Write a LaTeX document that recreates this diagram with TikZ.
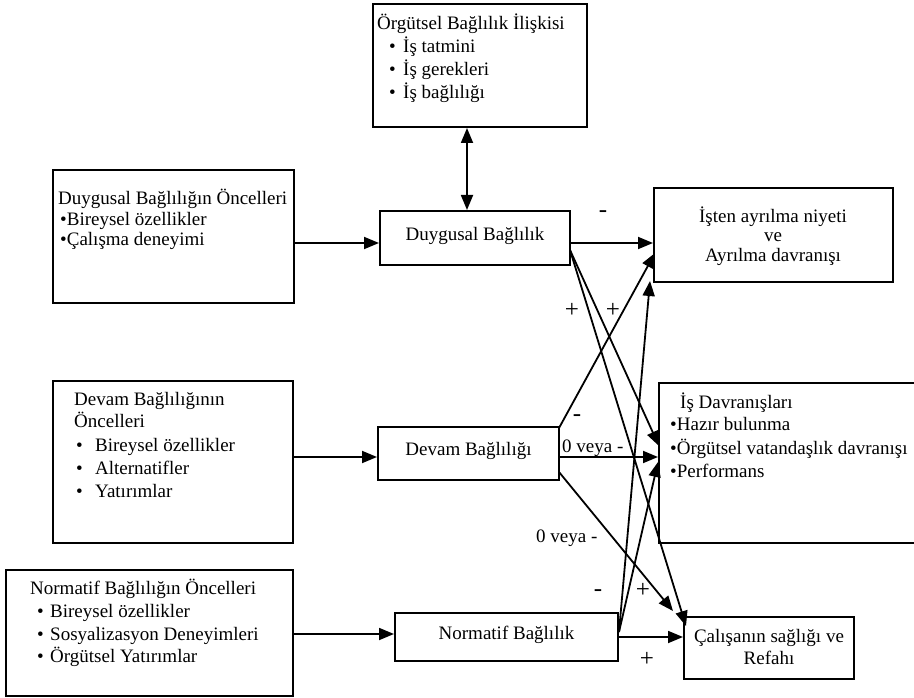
\documentclass[tikz,border=0pt]{standalone}
\usepackage{fontspec}
\setmainfont{Liberation Serif}
\usetikzlibrary{arrows.meta}
\begin{document}
\begin{tikzpicture}[x=1pt,y=-1pt,
  box/.style={draw, line width=2pt, inner sep=0pt},
  txt/.style={anchor=west, inner sep=0pt, font=\fontsize{19}{23}\selectfont, text height=0.68em, text depth=0.2em},
  ctxt/.style={anchor=center, inner sep=0pt, font=\fontsize{19}{23}\selectfont, text height=0.68em, text depth=0.2em},
  lbl/.style={anchor=center, inner sep=0pt, font=\fontsize{19}{23}\selectfont},
  sgn/.style={anchor=center, inner sep=0pt, font=\fontsize{25}{25}\selectfont},
  arr/.style={line width=1.8pt, -{Triangle[length=15pt,width=12pt]}},
  dblarr/.style={line width=1.8pt, {Triangle[length=15pt,width=12pt]}-{Triangle[length=15pt,width=12pt]}}
]
\useasboundingbox (0,0) rectangle (914,698);

% boxes
\node[box, minimum width=214pt, minimum height=123pt] (TB) at (480,65.5) {};
\node[box, minimum width=241pt, minimum height=133pt] (L1) at (173.5,236.5) {};
\node[box, minimum width=240pt, minimum height=162pt] (L2) at (173,462) {};
\node[box, minimum width=287pt, minimum height=126pt] (L3) at (149.5,633) {};
\node[box, minimum width=190pt, minimum height=54pt] (M1) at (475,238) {};
\node[box, minimum width=181pt, minimum height=53pt] (M2) at (468.5,453.5) {};
\node[box, minimum width=223pt, minimum height=48pt] (M3) at (506.5,637) {};
\node[box, minimum width=239pt, minimum height=94pt] (R1) at (773.5,235) {};
\node[box, minimum width=271pt, minimum height=160pt] (R2) at (794.5,463) {};
\node[box, minimum width=170pt, minimum height=62pt] (R3) at (769,648) {};

% top box text
\node[txt] (tb0) at (377,27) {Örgütsel Bağlılık İlişkisi};
\node[txt] (tbb1) at (389,50) {•};
\node[txt] (tb1) at (403,50) {İş tatmini};
\node[txt] (tbb2) at (389,73) {•};
\node[txt] (tb2) at (403,73) {İş gerekleri};
\node[txt] (tbb3) at (389,96) {•};
\node[txt] (tb3) at (403,96) {İş bağlılığı};

% L1 text
\node[txt] (l10) at (58,202) {Duygusal Bağlılığın Öncelleri};
\node[txt] (l11) at (60,223) {•Bireysel özellikler};
\node[txt] (l12) at (60,243) {•Çalışma deneyimi};

% L2 text
\node[txt] (l20) at (74,403) {Devam Bağlılığının};
\node[txt] (l21) at (74,425) {Öncelleri};
\node[txt] (l2b1) at (76,449) {•};
\node[txt] (l22) at (95,449) {Bireysel özellikler};
\node[txt] (l2b2) at (76,472) {•};
\node[txt] (l23) at (95,472) {Alternatifler};
\node[txt] (l2b3) at (76,495) {•};
\node[txt] (l24) at (95,495) {Yatırımlar};

% L3 text
\node[txt] (l30) at (30,592) {Normatif Bağlılığın Öncelleri};
\node[txt] (l3b1) at (37,615) {•};
\node[txt] (l31) at (50,615) {Bireysel özellikler};
\node[txt] (l3b2) at (37,638) {•};
\node[txt] (l32) at (50,638) {Sosyalizasyon Deneyimleri};
\node[txt] (l3b3) at (37,660) {•};
\node[txt] (l33) at (50,660) {Örgütsel Yatırımlar};

% middle texts
\node[ctxt] (m1t) at (M1.center) {Duygusal Bağlılık};
\node[ctxt] (m2t) at (M2.center) {Devam Bağlılığı};
\node[ctxt] (m3t) at (M3.center) {Normatif Bağlılık};

% right texts
\node[ctxt] (r10) at (773,220) {İşten ayrılma niyeti};
\node[ctxt] (r11) at (773,239) {ve};
\node[ctxt] (r12) at (773,259) {Ayrılma davranışı};

\node[txt] (r20) at (680,406) {İş Davranışları};
\node[txt] (r21) at (670,428) {•Hazır bulunma};
\node[txt] (r22) at (670,452) {•Örgütsel vatandaşlık davranışı};
\node[txt] (r23) at (670,475) {•Performans};

\node[ctxt] (r30) at (769,640) {Çalışanın sağlığı ve};
\node[ctxt] (r31) at (769,662) {Refahı};

% helper coordinates
\coordinate (y1) at (0,243);
\coordinate (y2) at (0,457);
\coordinate (y3) at (0,634);
\coordinate (y4) at (0,637);
\coordinate (dx) at (467,0);
\coordinate (m1s) at (570,250);
\coordinate (m2a) at (559,428);
\coordinate (m2b) at (559,472);
\coordinate (m3s) at (619,632);
\coordinate (t1) at (659,446);
\coordinate (t2) at (686,626);
\coordinate (t3) at (655,253);
\coordinate (t4) at (673,611);
\coordinate (t5) at (650,281);
\coordinate (t6) at (658,462);

% connectors
\draw[arr] (L1.east |- y1) -- (M1.west |- y1);
\draw[arr] (L2.east |- y2) -- (M2.west |- y2);
\draw[arr] (L3.east |- y3) -- (M3.west |- y3);
\draw[dblarr] (TB.south -| dx) -- (M1.north -| dx);
\draw[arr] (M1.east |- y1) -- (R1.west |- y1);
\draw[arr] (m1s) -- (t1);
\draw[arr] (m1s) -- (t2);
\draw[arr] (m2a) -- (t3);
\draw[arr] (M2.east |- y2) -- (R2.west |- y2);
\draw[arr] (m2b) -- (t4);
\draw[arr] (m3s) -- (t5);
\draw[arr] (m3s) -- (t6);
\draw[arr] (M3.east |- y4) -- (R3.west |- y4);

% labels
\node[sgn] (la1) at (603,214) {-};
\node[sgn] (la2) at (572,310) {+};
\node[sgn] (la3) at (613,310) {+};
\node[sgn] (la4) at (577,418) {-};
\node[lbl, anchor=west] (la5) at (562,448) {0 veya -};
\node[lbl, anchor=west] (la6) at (536,538) {0 veya -};
\node[sgn] (la7) at (598,593) {-};
\node[sgn] (la8) at (643,590) {+};
\node[sgn] (la9) at (647,659) {+};
\end{tikzpicture}
\end{document}
